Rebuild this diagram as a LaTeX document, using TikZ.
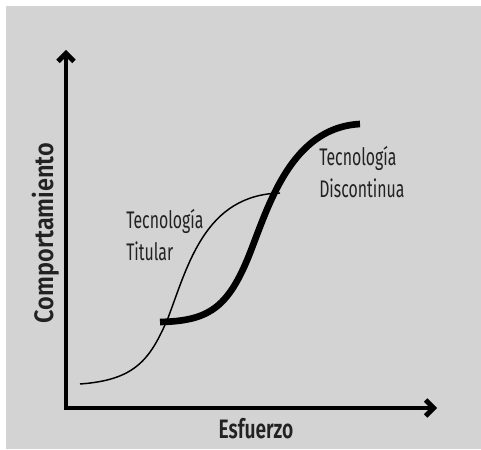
\documentclass[tikz,border=0pt]{standalone}
\usepackage{fontspec}
\setmainfont{Fira Sans}
\newfontfamily\labfont{Fira Sans}[FakeStretch=0.66]
\newfontfamily\axfont{Fira Sans SemiBold}[FakeStretch=0.72]
\newfontfamily\axfontw{Fira Sans SemiBold}[FakeStretch=0.88]
\usetikzlibrary{arrows.meta}
\definecolor{fondo}{HTML}{D3D3D3}
\definecolor{texto}{HTML}{222222}
\begin{document}
\begin{tikzpicture}[x=0.75pt,y=-0.75pt]
		
		% Fondo
		\useasboundingbox (0,0) rectangle (481,449);
		\fill[fondo] (6,6) rectangle (481,449);
		
		% Ejes
		\coordinate (O) at (66,408);
		\coordinate (Y) at (66,50);
		\coordinate (X) at (437,408);
		\draw[line width=3.6pt, {Straight Barb[length=6pt,width=12pt]}-{Straight Barb[length=6pt,width=12pt]}] (Y) -- (O) -- (X);
		\node[font=\axfont\fontsize{20}{24}\selectfont, text=texto, anchor=base, inner sep=0pt] (E) at (256,438) {Esfuerzo};
		\node[font=\axfontw\fontsize{20}{24}\selectfont, text=texto, rotate=90, anchor=base, inner sep=0pt] (C) at (53,233) {Comportamiento};
		
		% Tecnologia titular (curva fina)
		\coordinate (A0) at (80,384);
		\coordinate (A1) at (168,318);
		\coordinate (A2) at (280,193);
		\draw[line width=1.1pt] (A0) .. controls (135,380) and (150,360) .. (A1) .. controls (188,265) and (205,195) .. (A2);
		
		% Tecnologia discontinua (curva gruesa)
		\coordinate (B0) at (160,322);
		\coordinate (B1) at (245,265);
		\coordinate (B2) at (360,124);
		\draw[line width=5pt] (B0) .. controls (205,321) and (225,310) .. (B1) .. controls (265,220) and (285,128) .. (B2);
		
		% Etiquetas
		\node[font=\labfont\fontsize{18}{24}\selectfont, text=texto, align=left, anchor=base west, inner sep=0pt] (T1) at (126,260) {Tecnología\\Titular};
		\node[font=\labfont\fontsize{18}{24}\selectfont, text=texto, align=left, anchor=base west, inner sep=0pt] (T2) at (319,197) {Tecnología\\Discontinua};
		
	\end{tikzpicture}
\end{document}
